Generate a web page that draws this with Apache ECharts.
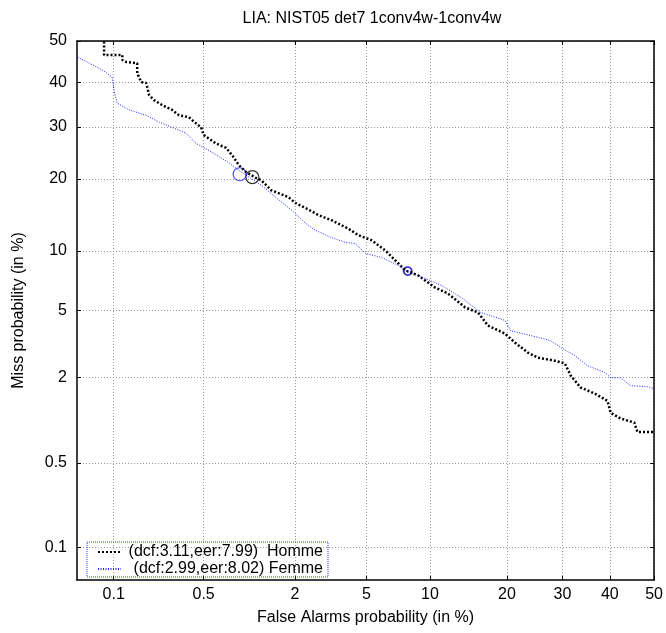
<!DOCTYPE html>
<html><head><meta charset="utf-8">
<script src="https://cdn.jsdelivr.net/npm/echarts@6/dist/echarts.min.js"></script>
<style>html,body{margin:0;padding:0;background:#fff}#c{width:666px;height:633px}</style>
</head><body><div id="c"></div>
<script>
// Tick labels (percent)
const xTicks = [0.1, 0.5, 2, 5, 10, 20, 30, 40, 50];
const yTicks = [0.1, 0.5, 2, 5, 10, 20, 30, 40, 50];
// Homme curve: false alarm %, miss %
const hommeFa   = [0.083,0.083,0.118,0.118,0.127,0.156,0.156,0.168,0.184,0.194,0.212,0.245,0.293,0.33,0.39,0.43,0.48,0.50,0.61,0.72,0.81,0.88,0.98,1.15,1.23,1.43,1.83,2.02,2.31,2.75,3.25,4.02,4.54,5.30,6.21,6.94,7.74,8.87,10.5,11.9,14.0,15.7,17.1,19.7,21.3,23.5,25.3,28.5,30.5,31.7,33.7,36.7,39.5,40.2,42.4,45.5,46.2,50];
const hommeMiss = [49.9,46.6,46.6,45.4,44.9,44.6,42.2,40.1,39.9,37.1,35.9,34.8,33.7,32.5,32.1,31.0,29.9,28.3,26.6,25.7,23.9,22.4,21.2,20.1,19.8,18.1,17.0,16.1,15.4,14.4,13.7,12.6,11.8,11.2,10.06,9.03,8.07,7.62,6.62,6.17,5.19,4.87,4.12,3.70,3.28,2.86,2.66,2.55,2.45,2.05,1.72,1.57,1.40,1.16,1.06,0.99,0.85,0.85];
// Femme curve
const femmeFa   = [0.049,0.062,0.080,0.097,0.101,0.107,0.134,0.184,0.233,0.293,0.37,0.44,0.545,0.72,0.88,1.24,1.59,1.91,2.31,2.64,3.25,3.88,4.38,4.94,5.94,7.18,7.89,9.52,11.2,13.5,16.1,19.7,20.6,24.0,27.7,29.7,32.5,35.2,38.9,40.2,42.4,44.6,48.5,50];
const femmeMiss = [46.1,44.6,43.0,41.3,37.8,35.2,33.7,32.5,31.0,29.9,28.7,26.6,25.2,23.2,21.5,18.9,16.6,15.1,13.3,12.4,11.5,10.95,10.8,9.74,9.33,8.54,7.97,7.36,6.78,5.87,4.87,4.40,3.85,3.61,3.37,3.06,2.74,2.37,2.15,1.99,1.99,1.77,1.74,1.69];
// Operating points: [fa %, miss %]
const hommeDcf = [1.08, 20.3];
const femmeDcf = [0.89, 20.8];
const hommeEer = [7.97, 7.99];
const femmeEer = [7.92, 8.02];
const hommeLabel = '(dcf:3.11,eer:7.99)  Homme';
const femmeLabel = '(dcf:2.99,eer:8.02) Femme';

function probit(p){
 const a=[-3.969683028665376e+01,2.209460984245205e+02,-2.759285104469687e+02,1.383577518672690e+02,-3.066479806614716e+01,2.506628277459239e+00];
 const b=[-5.447609879822406e+01,1.615858368580409e+02,-1.556989798598866e+02,6.680131188771972e+01,-1.328068155288572e+01];
 const c=[-7.784894002430293e-03,-3.223964580411365e-01,-2.400758277161838e+00,-2.549732539343734e+00,4.374664141464968e+00,2.938163982698783e+00];
 const d=[7.784695709041462e-03,3.224671290700398e-01,2.445134137142996e+00,3.754408661907416e+00];
 const pl=0.02425;
 if(p<pl){const q=Math.sqrt(-2*Math.log(p));return (((((c[0]*q+c[1])*q+c[2])*q+c[3])*q+c[4])*q+c[5])/((((d[0]*q+d[1])*q+d[2])*q+d[3])*q+1);}
 if(p<=1-pl){const q=p-0.5,r=q*q;return (((((a[0]*r+a[1])*r+a[2])*r+a[3])*r+a[4])*r+a[5])*q/(((((b[0]*r+b[1])*r+b[2])*r+b[3])*r+b[4])*r+1);}
 const q=Math.sqrt(-2*Math.log(1-p));return -(((((c[0]*q+c[1])*q+c[2])*q+c[3])*q+c[4])*q+c[5])/((((d[0]*q+d[1])*q+d[2])*q+d[3])*q+1);
}
const P = v => probit(v/100);
const pts = (fa, miss) => fa.map((f,i)=>[P(f), P(miss[i])]);
const labelFor = ticks => v => { let best=ticks[0],bd=1e9; ticks.forEach(t=>{const dd=Math.abs(P(t)-v); if(dd<bd){bd=dd;best=t;}}); return String(best); };

const FONT = 'Liberation Sans';
const FS = 16;
const xMin = -3.30, xMax = 0, yMin = P(0.05), yMax = 0;
const xVals = xTicks.map(P), yVals = yTicks.map(P);
const gridLine = {show:true, lineStyle:{color:'#999', type:[1,2], width:1}};
const chart = echarts.init(document.getElementById('c'), null, {renderer:'canvas'});
chart.setOption({
  animation:false,
  backgroundColor:'#fff',
  title:{text:'LIA: NIST05 det7 1conv4w-1conv4w', left:367, top:5, textAlign:'center',
    textStyle:{fontFamily:FONT, fontSize:FS, fontWeight:'normal', color:'#000', lineHeight:17}},
  grid:{left:77, right:9, top:41, bottom:53, containLabel:false},
  legend:{
    data:['Homme','Femme'], orient:'vertical', left:87, top:542,
    itemWidth:23, itemHeight:14, itemGap:1, padding:[2,5,0,10],
    borderColor:'#3333ff', borderWidth:1, borderType:'dotted',
    itemStyle:{opacity:0},
    formatter: n => '{a|' + (n==='Homme'?hommeLabel:femmeLabel) + '}',
    textStyle:{fontFamily:FONT, fontSize:FS, color:'#000', lineHeight:15,
      rich:{a:{fontFamily:FONT, fontSize:FS, width:197, align:'right', color:'#000', lineHeight:15}}}
  },
  xAxis:[{
    type:'value', min:xMin, max:xMax, position:'bottom',
    name:'False Alarms probability (in %)', nameLocation:'middle', nameGap:30,
    nameTextStyle:{fontFamily:FONT, fontSize:FS, color:'#000'},
    axisLine:{show:true, onZero:false, lineStyle:{color:'#000', width:1.5}},
    axisTick:{show:true, inside:true, length:4, customValues:xVals, lineStyle:{color:'#000'}},
    axisLabel:{customValues:xVals, formatter:labelFor(xTicks), fontFamily:FONT, fontSize:FS, color:'#000', margin:7, showMinLabel:true, showMaxLabel:true},
    splitLine:gridLine
  },{
    type:'value', min:xMin, max:xMax, position:'top',
    axisLine:{show:true, onZero:false, lineStyle:{color:'#000', width:1.5}},
    axisTick:{show:true, inside:true, length:4, customValues:xVals, lineStyle:{color:'#000'}},
    axisLabel:{show:false}, splitLine:{show:false}
  }],
  yAxis:[{
    type:'value', min:yMin, max:yMax, position:'left',
    name:'Miss probability (in %)', nameLocation:'middle', nameGap:50,
    nameTextStyle:{fontFamily:FONT, fontSize:FS, color:'#000'},
    axisLine:{show:true, onZero:false, lineStyle:{color:'#000', width:1.5}},
    axisTick:{show:true, inside:true, length:4, customValues:yVals, lineStyle:{color:'#000'}},
    axisLabel:{customValues:yVals, formatter:labelFor(yTicks), fontFamily:FONT, fontSize:FS, color:'#000', margin:10, showMinLabel:true, showMaxLabel:true},
    splitLine:gridLine
  },{
    type:'value', min:yMin, max:yMax, position:'right',
    axisLine:{show:true, onZero:false, lineStyle:{color:'#000', width:1.5}},
    axisTick:{show:true, inside:true, length:4, customValues:yVals, lineStyle:{color:'#000'}},
    axisLabel:{show:false}, splitLine:{show:false}
  }],
  series:[
    {name:'Homme', type:'line', data:pts(hommeFa,hommeMiss), symbol:'none', clip:true,
      lineStyle:{color:'#000', width:2.5, type:[2,2]}, itemStyle:{color:'#000'}},
    {name:'Femme', type:'line', data:pts(femmeFa,femmeMiss), symbol:'none', clip:true,
      lineStyle:{color:'#2222ff', width:1, type:[1,1.5]}, itemStyle:{color:'#2222ff'}},
    {name:'hdcf', type:'scatter', data:[[P(hommeDcf[0]),P(hommeDcf[1])]], symbol:'circle', symbolSize:13,
      itemStyle:{color:'rgba(0,0,0,0)', borderColor:'#000', borderWidth:1.2}},
    {name:'fdcf', type:'scatter', data:[[P(femmeDcf[0]),P(femmeDcf[1])]], symbol:'circle', symbolSize:13,
      itemStyle:{color:'rgba(0,0,0,0)', borderColor:'#2222ff', borderWidth:1.2}},
    {name:'heer', type:'scatter', data:[[P(hommeEer[0]),P(hommeEer[1])]], symbol:'circle', symbolSize:8,
      itemStyle:{color:'rgba(0,0,0,0)', borderColor:'#000', borderWidth:1.2}},
    {name:'feer', type:'scatter', data:[[P(femmeEer[0]),P(femmeEer[1])]], symbol:'circle', symbolSize:8,
      itemStyle:{color:'rgba(0,0,0,0)', borderColor:'#2222ff', borderWidth:1.5}}
  ]
});
</script></body></html>
